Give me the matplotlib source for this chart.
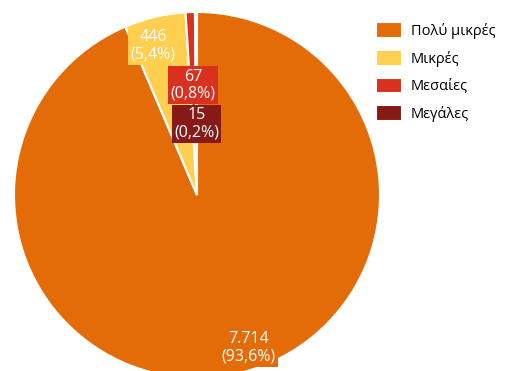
import numpy as np
import matplotlib.pyplot as plt

plt.rcParams['font.family'] = ['Open Sans', 'DejaVu Sans']

categories = ['Πολύ μικρές', 'Μικρές', 'Μεσαίες', 'Μεγάλες']
values = [7714, 446, 67, 15]
value_labels = ['7.714', '446', '67', '15']
pct_labels = ['93,6%', '5,4%', '0,8%', '0,2%']
colors = ['#E36C09', '#FFCF4F', '#D9301F', '#861A17']

W, H = 509, 371
fig = plt.figure(figsize=(W / 100, H / 100), dpi=100)
ax = fig.add_axes([0, 0, 1, 1])

cx, cy, r = 197, H - 195, 183
wedges, _ = ax.pie(values, colors=colors, startangle=90, counterclock=False,
                   center=(cx, cy), radius=r, frame=True,
                   wedgeprops=dict(edgecolor='white', linewidth=1.5))
ax.set_xlim(0, W)
ax.set_ylim(0, H)
ax.set_aspect('equal')
ax.axis('off')

# label distances (fraction of radius) and angle tweaks to mimic the layout
dist = [0.88, 0.85, 0.60, 0.39]
shift = [7, 3, 0, 0]
for w, v, p, c, d, s in zip(wedges, value_labels, pct_labels, colors, dist, shift):
    ang = np.deg2rad((w.theta1 + w.theta2) / 2 + s)
    x = cx + d * r * np.cos(ang)
    y = cy + d * r * np.sin(ang)
    ax.text(x, y, f'{v}\n({p})', ha='center', va='center', color='white',
            fontsize=11.5, linespacing=1.1,
            bbox=dict(boxstyle='square,pad=0.15', facecolor=c, edgecolor='none'))

ax.legend(wedges, categories, loc='upper left', frameon=False,
          bbox_to_anchor=(376 / W, (H - 22) / H), bbox_transform=fig.transFigure,
          fontsize=10.5, borderpad=0, borderaxespad=0, labelspacing=0.75,
          handlelength=1.8, handleheight=1.3, handletextpad=0.6)

fig.savefig('out.png', dpi=100)
